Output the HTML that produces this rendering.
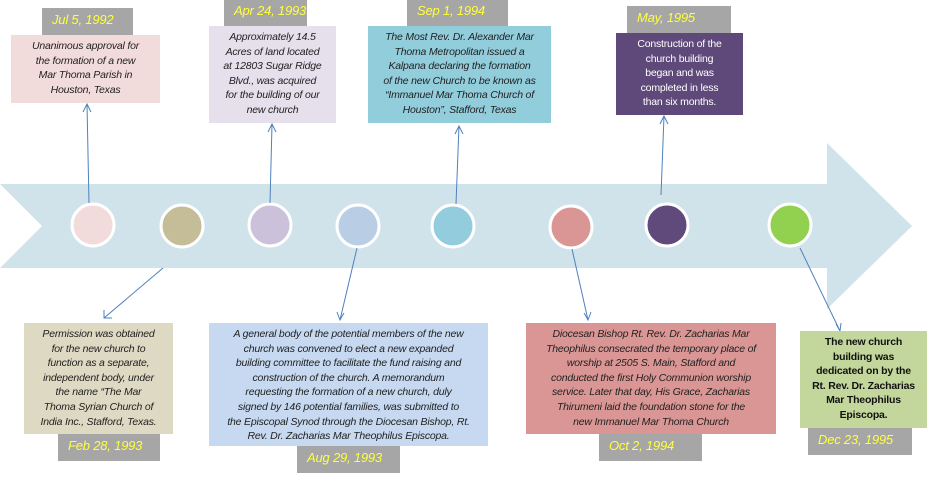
<!DOCTYPE html>
<html><head><meta charset="utf-8"><style>
body{margin:0;width:927px;height:477px;position:relative;background:#fff;overflow:hidden;font-family:"Liberation Sans",sans-serif}
.b{position:absolute;box-sizing:border-box;text-align:center;font-style:italic;font-size:10.5px;line-height:14.6px;color:#222;padding-top:4px;letter-spacing:-0.2px}
.d{position:absolute;background:#a6a6a6;color:#ffff40;font-style:italic;font-size:13px;box-sizing:border-box;padding:4px 0 0 10px;letter-spacing:-0.2px;white-space:nowrap}
svg{position:absolute;left:0;top:0}
</style></head><body>
<svg width="927" height="477">
<polygon points="0,184 827,184 827,143 912,226 827,309 827,268 0,268 42,226" fill="#d1e3ea"/>
<g stroke="#fff" stroke-width="3">
<circle cx="93" cy="225" r="21" fill="#f2dcdb"/>
<circle cx="182" cy="226" r="21" fill="#c4bd97"/>
<circle cx="270" cy="225" r="21" fill="#ccc1da"/>
<circle cx="358" cy="226" r="21" fill="#b9cde5"/>
<circle cx="453" cy="226" r="21" fill="#93cddd"/>
<circle cx="571" cy="227" r="21" fill="#d99694"/>
<circle cx="667" cy="225" r="21" fill="#604a7b"/>
<circle cx="790" cy="225" r="21" fill="#92d050"/>
</g>
<g stroke="#4f81bd" stroke-width="1" fill="none">
<line x1="89" y1="203" x2="87" y2="104"/><polyline points="83,112 87,104 91,112"/>
<line x1="163" y1="268" x2="104" y2="318"/><polyline points="104,310 104,318 112,318"/>
<line x1="270" y1="203" x2="272" y2="124"/><polyline points="268,132 272,124 276,132"/>
<line x1="357" y1="248" x2="340" y2="320"/><polyline points="337,312 340,320 344,313"/>
<line x1="456" y1="204" x2="459" y2="126"/><polyline points="455,134 459,126 463,134"/>
<line x1="572" y1="249" x2="588" y2="320"/><polyline points="584,313 588,320 591,312"/>
<line x1="661" y1="195" x2="664" y2="116"/><polyline points="660,124 664,116 668,124"/>
<line x1="800" y1="248" x2="840" y2="331"/><polyline points="836,324 840,331 841,323"/>
</g>
</svg>

<div class="d" style="left:42px;top:8px;width:91px;height:27px">Jul 5, 1992</div>
<div class="b" style="left:11px;top:35px;width:149px;height:68px;background:#f2dcdb">Unanimous approval for<br>the formation of a new<br>Mar Thoma Parish in<br>Houston, Texas</div>

<div class="d" style="left:224px;top:0;width:83px;height:26px;padding-top:3px">Apr 24, 1993</div>
<div class="b" style="left:209px;top:26px;width:127px;height:97px;background:#e5e0ec">Approximately 14.5<br>Acres of land located<br>at 12803 Sugar Ridge<br>Blvd., was acquired<br>for the building of our<br>new church</div>

<div class="d" style="left:407px;top:0;width:101px;height:26px;padding-top:3px">Sep 1, 1994</div>
<div class="b" style="left:368px;top:26px;width:183px;height:97px;background:#92cddc">The Most Rev. Dr. Alexander Mar<br>Thoma Metropolitan issued a<br>Kalpana declaring the formation<br>of the new Church to be known as<br>“Immanuel Mar Thoma Church of<br>Houston”, Stafford, Texas</div>

<div class="d" style="left:627px;top:6px;width:104px;height:27px">May, 1995</div>
<div class="b" style="left:616px;top:33px;width:127px;height:82px;background:#5f497a;color:#fff;font-style:normal">Construction of the<br>church building<br>began and was<br>completed in less<br>than six months.</div>

<div class="b" style="left:24px;top:323px;width:149px;height:111px;background:#ddd9c3">Permission was obtained<br>for the new church to<br>function as a separate,<br>independent body, under<br>the name “The Mar<br>Thoma Syrian Church of<br>India Inc., Stafford, Texas.</div>
<div class="d" style="left:58px;top:434px;width:102px;height:27px">Feb 28, 1993</div>

<div class="b" style="left:209px;top:323px;width:279px;height:123px;background:#c6d9f1">A general body of the potential members of the new<br>church was convened to elect a new expanded<br>building committee to facilitate the fund raising and<br>construction of the church. A memorandum<br>requesting the formation of a new church, duly<br>signed by 146 potential families, was submitted to<br>the Episcopal Synod through the Diocesan Bishop, Rt.<br>Rev. Dr. Zacharias Mar Theophilus Episcopa.</div>
<div class="d" style="left:297px;top:446px;width:103px;height:27px">Aug 29, 1993</div>

<div class="b" style="left:526px;top:323px;width:250px;height:111px;background:#da9694">Diocesan Bishop Rt. Rev. Dr. Zacharias Mar<br>Theophilus consecrated the temporary place of<br>worship at 2505 S. Main, Stafford and<br>conducted the first Holy Communion worship<br>service. Later that day, His Grace, Zacharias<br>Thirumeni laid the foundation stone for the<br>new Immanuel Mar Thoma Church</div>
<div class="d" style="left:599px;top:434px;width:103px;height:27px">Oct 2, 1994</div>

<div class="b" style="left:800px;top:331px;width:127px;height:97px;background:#c3d69b;font-style:normal;font-weight:bold;color:#111">The new church<br>building was<br>dedicated on by the<br>Rt. Rev. Dr. Zacharias<br>Mar Theophilus<br>Episcopa.</div>
<div class="d" style="left:808px;top:428px;width:104px;height:27px">Dec 23, 1995</div>
</body></html>
